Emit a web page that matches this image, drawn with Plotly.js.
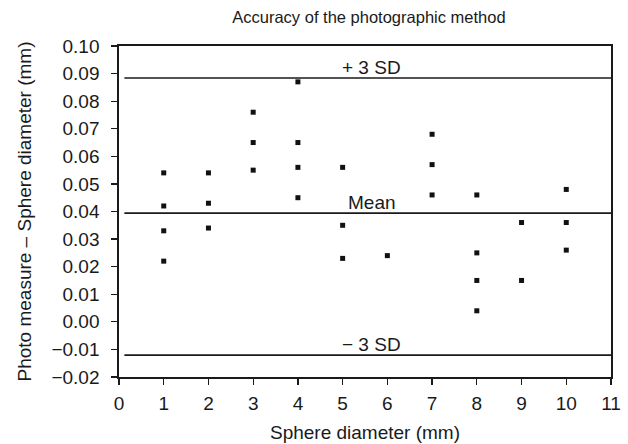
<!DOCTYPE html>
<html>
<head>
<meta charset="utf-8">
<script src="https://cdn.plot.ly/plotly-3.0.1.min.js"></script>
<style>html,body{margin:0;padding:0;background:#fff;}#chart{width:628px;height:444px;}</style>
</head>
<body>
<div id="chart"></div>
<script>
// Sphere diameters (mm) for each measurement
var sphereDiameter = [1,1,1,1, 2,2,2, 3,3,3, 4,4,4,4, 5,5,5, 6, 7,7,7, 8,8,8,8, 9,9, 10,10,10];
// Photo measure - sphere diameter (mm)
var difference = [0.054,0.042,0.033,0.022, 0.054,0.043,0.034, 0.076,0.065,0.055, 0.087,0.065,0.056,0.045, 0.056,0.035,0.023, 0.024, 0.068,0.057,0.046, 0.046,0.025,0.015,0.004, 0.036,0.015, 0.048,0.036,0.026];
// Reference lines
var lineNames = ["+ 3 SD", "Mean", "\u2212 3 SD"];
var lineValues = [0.0884, 0.0394, -0.0121];
var xTicks = [0,1,2,3,4,5,6,7,8,9,10,11];
var yTicks = [-0.02,-0.01,0,0.01,0.02,0.03,0.04,0.05,0.06,0.07,0.08,0.09,0.10];

var fontFam = "Liberation Sans, Arial, Helvetica, sans-serif";
var ink = '#1a1a1a';

var shapes = lineValues.map(function(v){
  return {type:'line', xref:'x', yref:'y', x0:0.12, x1:11, y0:v, y1:v,
          line:{color:ink, width:1.7}};
});
var annotations = lineValues.map(function(v,i){
  return {x:5.65, y:v, xref:'x', yref:'y', text:lineNames[i], showarrow:false,
          yanchor:'bottom', xanchor:'center', yshift:-2,
          font:{family:fontFam, size:19, color:ink}};
});

var trace = {
  x: sphereDiameter, y: difference, type:'scatter', mode:'markers',
  marker:{symbol:'square', size:5, color:'#111'},
  hoverinfo:'none'
};

var layout = {
  width:628, height:444,
  margin:{l:119, r:17, t:46, b:67},
  paper_bgcolor:'#fff', plot_bgcolor:'#fff',
  showlegend:false,
  font:{family:fontFam, size:19, color:ink},
  title:{text:'Accuracy of the photographic method', x:0.5875, xanchor:'center', y:0.962, yanchor:'middle',
         font:{family:fontFam, size:16.5, color:ink}},
  xaxis:{range:[0,11], tickvals:xTicks, ticktext:xTicks.map(String), ticks:'outside', ticklen:6,
         tickcolor:ink, tickwidth:1.2, showgrid:false, zeroline:false, showline:true, linecolor:ink,
         linewidth:1.7, mirror:true, ticklabelstandoff:2,
         title:{text:'Sphere diameter (mm)', standoff:13, font:{family:fontFam, size:19, color:ink}},
         tickfont:{family:fontFam, size:19, color:ink}},
  yaxis:{range:[-0.02,0.10], tickvals:yTicks, tickformat:'.2f', ticks:'outside', ticklen:6,
         tickcolor:ink, tickwidth:1.2, showgrid:false, zeroline:false, showline:true, linecolor:ink,
         linewidth:1.7, mirror:true, ticklabelstandoff:8,
         title:{text:'Photo measure \u2013 Sphere diameter (mm)', standoff:15, font:{family:fontFam, size:19, color:ink}},
         tickfont:{family:fontFam, size:19, color:ink}},
  shapes:shapes,
  annotations:annotations
};

Plotly.newPlot('chart', [trace], layout, {displayModeBar:false, staticPlot:true});
</script>
</body>
</html>
